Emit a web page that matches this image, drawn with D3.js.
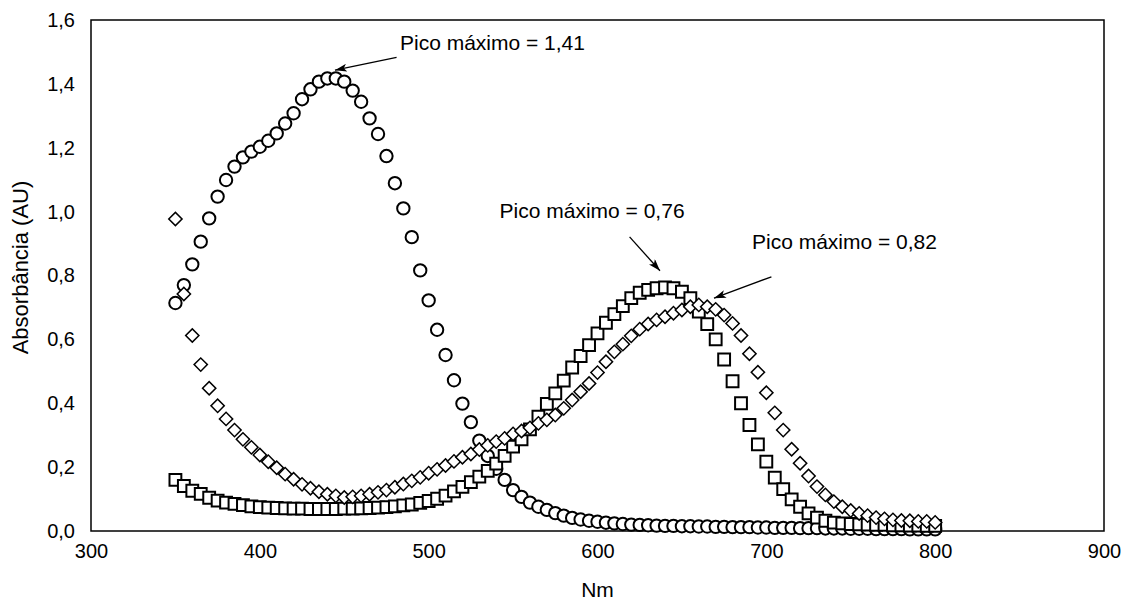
<!DOCTYPE html>
<html>
<head>
<meta charset="utf-8">
<script src="https://cdn.jsdelivr.net/npm/d3@7"></script>
<style>
  body { margin: 0; background: #fff; }
  #chart { width: 1125px; height: 603px; }
  text { font-family: Arial, "Liberation Sans", sans-serif; fill: #000; }
</style>
</head>
<body>
<div id="chart"></div>
<script>
// wavelengths (nm)
const wavelengths = [350,355,360,365,370,375,380,385,390,395,400,405,410,415,420,425,430,435,440,445,
  450,455,460,465,470,475,480,485,490,495,500,505,510,515,520,525,530,535,540,545,
  550,555,560,565,570,575,580,585,590,595,600,605,610,615,620,625,630,635,640,645,
  650,655,660,665,670,675,680,685,690,695,700,705,710,715,720,725,730,735,740,745,
  750,755,760,765,770,775,780,785,790,795,800];

// circles
const seriesCircle = [0.714,0.770,0.835,0.906,0.979,1.047,1.099,1.141,1.170,1.188,1.203,1.222,1.245,1.276,1.308,1.352,1.383,1.407,1.417,1.417,
  1.407,1.379,1.344,1.292,1.243,1.174,1.089,1.010,0.920,0.816,0.722,0.630,0.551,0.472,0.399,0.341,0.283,0.235,0.195,0.160,
  0.128,0.107,0.089,0.076,0.066,0.056,0.048,0.041,0.036,0.032,0.029,0.026,0.024,0.022,0.020,0.019,0.018,0.017,0.016,0.016,
  0.015,0.015,0.014,0.014,0.013,0.013,0.012,0.012,0.012,0.011,0.011,0.010,0.010,0.010,0.009,0.009,0.009,0.008,0.008,0.008,
  0.007,0.007,0.007,0.006,0.006,0.006,0.006,0.005,0.005,0.005,0.005];

// squares
const seriesSquare = [0.160,0.141,0.126,0.116,0.104,0.095,0.089,0.085,0.081,0.077,0.075,0.073,0.072,0.071,0.070,0.070,0.069,0.069,0.069,0.069,
  0.070,0.070,0.071,0.072,0.073,0.075,0.077,0.080,0.083,0.088,0.094,0.101,0.111,0.124,0.138,0.153,0.170,0.188,0.211,0.235,
  0.264,0.287,0.318,0.358,0.398,0.431,0.471,0.512,0.548,0.582,0.619,0.652,0.679,0.704,0.729,0.746,0.755,0.760,0.763,0.760,
  0.749,0.729,0.687,0.648,0.600,0.537,0.469,0.400,0.332,0.271,0.217,0.167,0.131,0.099,0.076,0.055,0.042,0.032,0.026,0.024,
  0.022,0.021,0.020,0.019,0.019,0.018,0.018,0.017,0.017,0.016,0.016];

// diamonds
const seriesDiamond = [0.977,0.742,0.612,0.521,0.447,0.392,0.351,0.316,0.287,0.262,0.238,0.217,0.198,0.178,0.162,0.146,0.134,0.123,0.115,0.110,
  0.105,0.107,0.110,0.115,0.121,0.128,0.137,0.147,0.157,0.168,0.181,0.193,0.205,0.218,0.231,0.241,0.255,0.268,0.280,0.290,
  0.304,0.313,0.323,0.337,0.348,0.363,0.384,0.410,0.436,0.462,0.496,0.530,0.561,0.585,0.611,0.632,0.648,0.661,0.671,0.682,
  0.692,0.702,0.708,0.702,0.694,0.676,0.650,0.612,0.555,0.497,0.433,0.370,0.316,0.256,0.212,0.172,0.139,0.113,0.092,0.076,
  0.064,0.055,0.048,0.042,0.038,0.035,0.033,0.032,0.030,0.030,0.027];

const xTicks = [300, 400, 500, 600, 700, 800, 900];
const yTicks = [0, 0.2, 0.4, 0.6, 0.8, 1.0, 1.2, 1.4, 1.6];

// annotations: text position and arrow (from -> to), in data units
const annotations = [
  {label: "Pico máximo = 1,41", tx: 483, ty: 1.528, x1: 481, y1: 1.483, x2: 444.5, y2: 1.443},
  {label: "Pico máximo = 0,76", tx: 542, ty: 1.002, x1: 619, y1: 0.921, x2: 637, y2: 0.815},
  {label: "Pico máximo = 0,82", tx: 691.5, ty: 0.905, x1: 703, y1: 0.796, x2: 669, y2: 0.729}
];

function renderSpectra(selector) {
    const totalW = 1125, totalH = 603;
    const margin = {top: 20, right: 21, bottom: 72, left: 91};
    const width = totalW - margin.left - margin.right;
    const height = totalH - margin.top - margin.bottom;

    const svg = d3.select(selector).append("svg")
        .attr("width", totalW)
        .attr("height", totalH);

    svg.append("defs").append("marker")
        .attr("id", "arrow")
        .attr("viewBox", "0 0 12 8")
        .attr("refX", 12)
        .attr("refY", 4)
        .attr("markerWidth", 12)
        .attr("markerHeight", 8)
        .attr("markerUnits", "userSpaceOnUse")
        .attr("orient", "auto")
        .append("path")
        .attr("d", "M0,0 L12,4 L0,8 L3,4 Z")
        .attr("fill", "#000");

    const g = svg.append("g")
        .attr("transform", `translate(${margin.left}, ${margin.top})`);

    const x = d3.scaleLinear().domain([300, 900]).range([0, width]);
    const y = d3.scaleLinear().domain([0, 1.6]).range([height, 0]);

    const fmt = d3.format(".1f");
    const comma = d => fmt(d).replace(".", ",");

    const xAxis = g.append("g")
        .attr("transform", `translate(0, ${height})`)
        .call(d3.axisBottom(x).tickValues(xTicks).tickSize(0).tickPadding(13).tickFormat(d3.format("d")));
    const yAxis = g.append("g")
        .call(d3.axisLeft(y).tickValues(yTicks).tickSize(0).tickPadding(16).tickFormat(comma));
    [xAxis, yAxis].forEach(a => {
        a.select(".domain").remove();
        a.selectAll("text").attr("font-size", 20).attr("font-family", "Arial, 'Liberation Sans', sans-serif").attr("fill", "#000");
    });

    // plot frame
    g.append("rect")
        .attr("x", 0).attr("y", 0)
        .attr("width", width).attr("height", height)
        .attr("fill", "none")
        .attr("stroke", "#000")
        .attr("stroke-width", 1.5);

    const makeData = vals => wavelengths.map((w, i) => ({w: w, v: vals[i]}));

    g.selectAll(".circ")
        .data(makeData(seriesCircle))
        .enter().append("path")
        .attr("class", "circ")
        .attr("transform", d => `translate(${x(d.w)}, ${y(d.v)})`)
        .attr("d", d3.symbol(d3.symbolCircle, 120))
        .attr("fill", "#fff")
        .attr("stroke", "#000")
        .attr("stroke-width", 2);

    g.selectAll(".sq")
        .data(makeData(seriesSquare))
        .enter().append("path")
        .attr("class", "sq")
        .attr("transform", d => `translate(${x(d.w)}, ${y(d.v)})`)
        .attr("d", d3.symbol(d3.symbolSquare, 140))
        .attr("fill", "#fff")
        .attr("stroke", "#000")
        .attr("stroke-width", 2);

    g.selectAll(".dia")
        .data(makeData(seriesDiamond))
        .enter().append("path")
        .attr("class", "dia")
        .attr("transform", d => `translate(${x(d.w)}, ${y(d.v)}) rotate(45)`)
        .attr("d", d3.symbol(d3.symbolSquare, 88))
        .attr("fill", "#fff")
        .attr("stroke", "#000")
        .attr("stroke-width", 1.5);

    // annotations
    annotations.forEach(a => {
        g.append("line")
            .attr("x1", x(a.x1)).attr("y1", y(a.y1))
            .attr("x2", x(a.x2)).attr("y2", y(a.y2))
            .attr("stroke", "#000")
            .attr("stroke-width", 1.3)
            .attr("marker-end", "url(#arrow)");
        g.append("text")
            .attr("x", x(a.tx))
            .attr("y", y(a.ty))
            .attr("dy", "0.35em")
            .attr("font-size", 21)
            .text(a.label);
    });

    // axis titles
    g.append("text")
        .attr("x", width / 2)
        .attr("y", height + 66)
        .attr("text-anchor", "middle")
        .attr("font-size", 21)
        .text("Nm");

    g.append("text")
        .attr("transform", "rotate(-90)")
        .attr("x", -(height / 2) + 8)
        .attr("y", -margin.left + 20)
        .attr("dy", "0.35em")
        .attr("text-anchor", "middle")
        .attr("font-size", 22)
        .text("Absorbância (AU)");
}

renderSpectra("#chart");
</script>
</body>
</html>
